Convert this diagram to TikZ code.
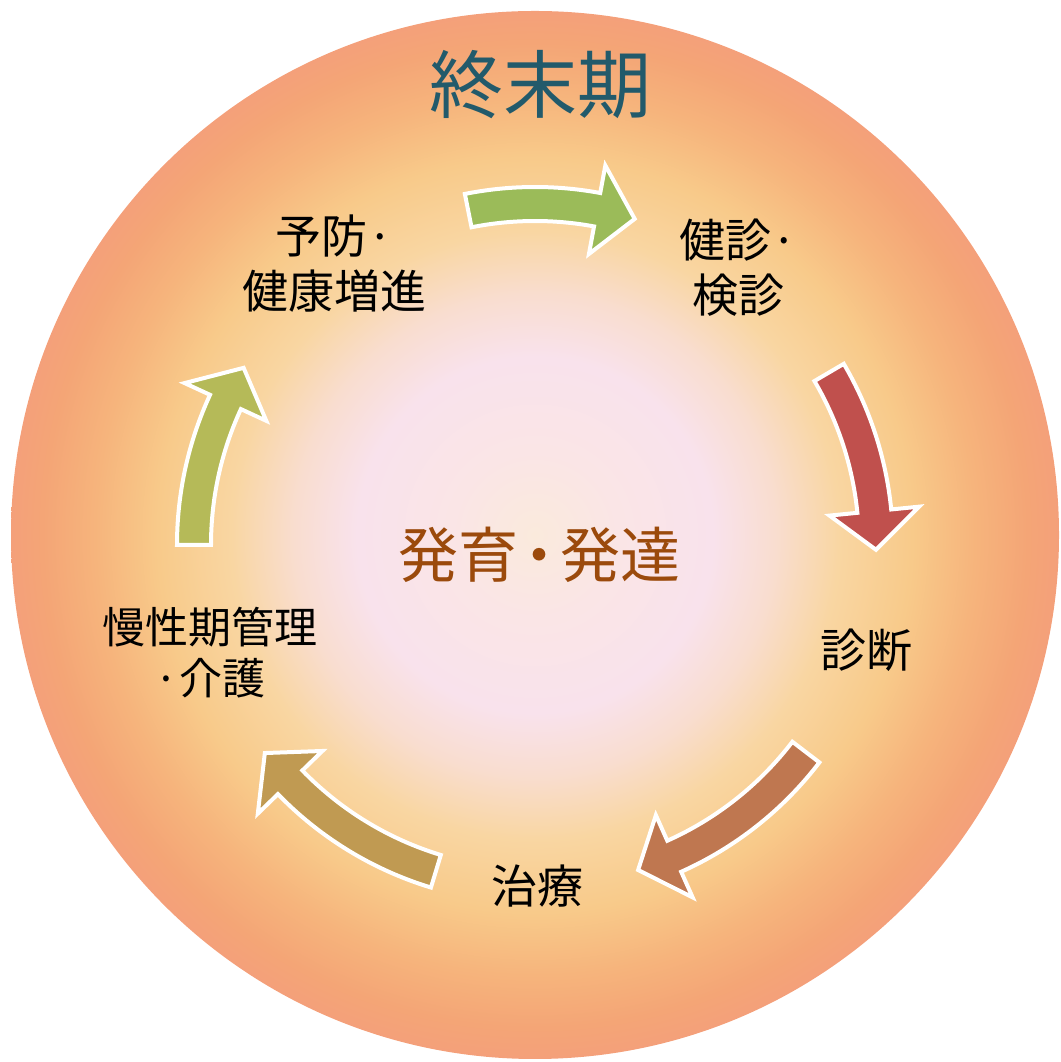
\documentclass[tikz,border=0pt]{standalone}
\usepackage{fontspec}
\setmainfont{Noto Sans CJK JP}
\definecolor{gA}{HTML}{FAEADC}
\definecolor{gB}{HTML}{FAE5E6}
\definecolor{gC}{HTML}{F9E2EC}
\definecolor{gD}{HTML}{F9DDCF}
\definecolor{gE}{HTML}{F9D6A2}
\definecolor{gF}{HTML}{F8CA8A}
\definecolor{gG}{HTML}{F6B47C}
\definecolor{gH}{HTML}{F4A576}
\definecolor{gI}{HTML}{F4A07A}
\definecolor{arrA}{HTML}{9BBB59}
\definecolor{arrB}{HTML}{C0504D}
\definecolor{arrC}{HTML}{BF7750}
\definecolor{arrD}{HTML}{C09A52}
\definecolor{arrE}{HTML}{B5BA58}
\definecolor{tealtxt}{HTML}{225A6B}
\definecolor{browntxt}{HTML}{9B4A0C}
\pgfdeclareradialshading{glow}{\pgfpointorigin}{color(0bp)=(gA); color(4bp)=(gB); color(8.5bp)=(gC); color(11.5bp)=(gD); color(14.5bp)=(gE); color(18bp)=(gF); color(21bp)=(gG); color(23.5bp)=(gH); color(25bp)=(gI); color(50bp)=(gI)}
\newcommand\cycarrow[3]{%
  \pgfmathsetmacro\hb{#3+6.5}%
  \filldraw[fill=#1, draw=white, line width=4pt, line join=miter]
    (#2:358) arc[start angle=#2, end angle=\hb, radius=358]
    -- (\hb:386) -- (#3:341) -- (\hb:296) -- (\hb:324)
    arc[start angle=\hb, end angle=#2, radius=324] -- cycle;
}
\tikzset{
  lbl/.style={inner sep=0pt, align=center, text=black,
    font=\fontsize{46}{55}\selectfont},
}
\begin{document}
\begin{tikzpicture}[x=1pt,y=1pt]
\useasboundingbox (0,0) rectangle (1060,1062);
\shade[shading=glow] (535,527) circle[radius=524];
\begin{scope}[shift={(535,517)}]
  \cycarrow{arrA}{101.3}{73}
  \cycarrow{arrB}{30.4}{-0.8}
  \cycarrow{arrC}{-37.4}{-72.4}
  \cycarrow{arrD}{253.1}{217.6}
  \cycarrow{arrE}{180}{148.7}
\end{scope}
\node[inner sep=0pt, text=tealtxt, font=\fontsize{74}{80}\selectfont] (terminal) at (540,977) {終末期};
\node[inner sep=0pt, text=browntxt, font=\fontsize{60}{66}\selectfont] (growth) at (539,507) {発育\kern-0.15em・\kern-0.15em発達};
\node[lbl] (prevent) at (334,798) {予防·\\健康増進};
\node[lbl] (checkup) at (738,794) {健診·\\検診};
\node[lbl] (diagnosis) at (866,412) {診断};
\node[lbl] (treatment) at (537,176) {治療};
\node[lbl, font=\fontsize{43}{51}\selectfont] (chronic) at (210,409) {慢性期管理\\·介護};
\end{tikzpicture}
\end{document}
